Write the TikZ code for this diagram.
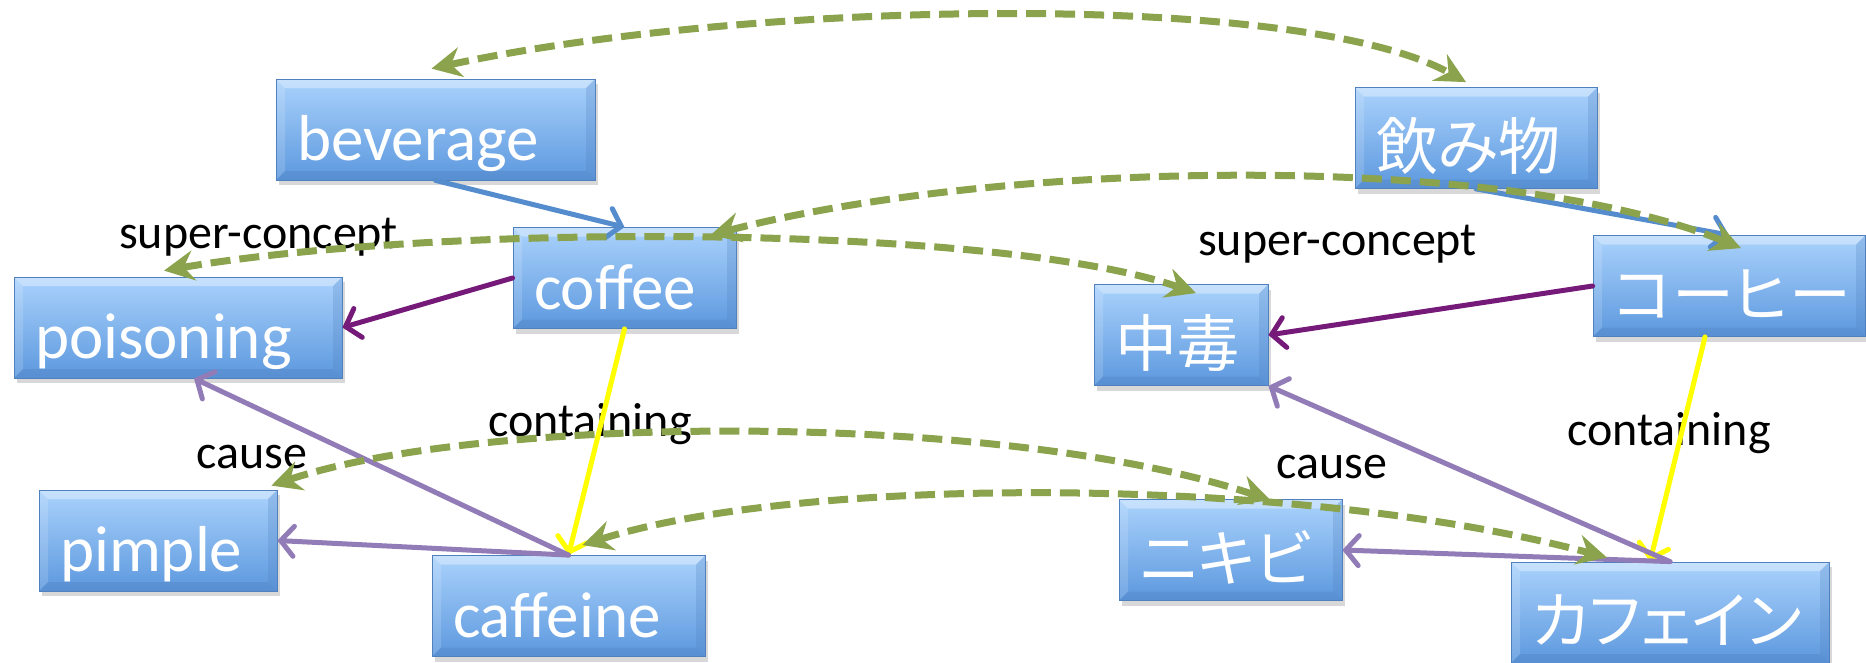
\documentclass[tikz,border=0pt]{standalone}
\usepackage{fontspec}
\setmainfont{Carlito}
\newfontfamily\jpfont{Noto Sans CJK JP}[RawFeature={+palt}]
\usetikzlibrary{arrows.meta,shadows}
\definecolor{boxtop}{RGB}{170,210,252}
\definecolor{boxbot}{RGB}{92,152,222}
\definecolor{boxedge}{RGB}{80,128,190}
\definecolor{dgreen}{RGB}{138,163,76}
\definecolor{lblue}{RGB}{84,140,205}
\definecolor{dpurple}{RGB}{118,26,122}
\definecolor{lpurple}{RGB}{146,124,183}
\definecolor{yel}{RGB}{255,255,0}
\newcommand\bx[2]{\hbox to #1pt{\hskip 21pt #2\hfil}}
\begin{document}
\begin{tikzpicture}[x=1pt,y=-1pt,
  cbox/.style={rectangle, draw=boxedge, line width=0.8pt,
    top color=boxtop, bottom color=boxbot,
    minimum height=101pt, inner xsep=0pt, inner ysep=0pt,
    text height=80pt, text depth=18pt, text=white,
    font=\fontsize{65pt}{78pt}\selectfont,
    drop shadow={shadow xshift=3pt, shadow yshift=-5pt, opacity=0.3},
    path picture={
      \fill[white,opacity=0.35] (path picture bounding box.north west) -- (path picture bounding box.north east)
        -- ([xshift=-9pt,yshift=-9pt]path picture bounding box.north east) -- ([xshift=9pt,yshift=-9pt]path picture bounding box.north west) -- cycle;
      \fill[white,opacity=0.15] (path picture bounding box.north west) -- ([xshift=9pt,yshift=-9pt]path picture bounding box.north west)
        -- ([xshift=9pt,yshift=9pt]path picture bounding box.south west) -- (path picture bounding box.south west) -- cycle;
      \fill[boxedge,opacity=0.25] (path picture bounding box.north east) -- ([xshift=-9pt,yshift=-9pt]path picture bounding box.north east)
        -- ([xshift=-9pt,yshift=9pt]path picture bounding box.south east) -- (path picture bounding box.south east) -- cycle;
      \fill[boxedge,opacity=0.35] (path picture bounding box.south west) -- (path picture bounding box.south east)
        -- ([xshift=-9pt,yshift=9pt]path picture bounding box.south east) -- ([xshift=9pt,yshift=9pt]path picture bounding box.south west) -- cycle;
    }},
  jbox/.style={cbox, font=\jpfont\fontsize{62pt}{74pt}\selectfont},
  lbl/.style={font=\fontsize{48pt}{58pt}\selectfont, anchor=base west, inner sep=0pt, text=black},
  solidarrow/.style={line width=5pt, line cap=round, -{Straight Barb[length=13pt,width=30pt,line cap=round]}},
  dashcurve/.style={draw=dgreen, line width=7pt, dash pattern=on 20pt off 9pt,
    {Stealth[length=30pt,width=30pt,inset=10pt,fill=dgreen]}-{Stealth[length=30pt,width=30pt,inset=10pt,fill=dgreen]}}
]
\fill[white] (0,0) rectangle (1866,662);
\useasboundingbox (0,0) rectangle (1866,662);

% boxes
\node[cbox] (bev) at (435.5,129.5) {\bx{319}{beverage}};
\node[cbox] (coffee) at (624.5,278) {\bx{223}{coffee}};
\node[cbox] (pois) at (178,327.5) {\bx{328}{poisoning}};
\node[cbox] (pimple) at (158,540.5) {\bx{238}{pimple}};
\node[cbox] (caff) at (568.5,606) {\bx{273}{caffeine}};
\node[jbox] (nomi) at (1476,138) {\bx{242}{飲み物}};
\node[jbox] (chudoku) at (1181,335) {\bx{174}{中毒}};
\node[jbox] (coohee) at (1729,286) {\bx{272}{コーヒー}};
\node[jbox] (nikibi) at (1230.5,550) {\bx{223}{ニキビ}};
\node[jbox] (kafein) at (1670,612.5) {\bx{318}{カフェイン}};

% labels
\node[lbl] (lsc1) at (119,248) {super-concept};
\node[lbl] (lsc2) at (1198,255) {super-concept};
\node[lbl] (lco1) at (488,436) {containing};
\node[lbl] (lco2) at (1567,445) {containing};
\node[lbl] (lca1) at (196,468) {cause};
\node[lbl] (lca2) at (1276,478) {cause};

% solid connectors
\draw[solidarrow,lblue] (bev.south) -- (coffee.north);
\draw[solidarrow,lblue] (nomi.south) -- (coohee.north);
\draw[solidarrow,dpurple] (coffee.west) -- (pois.east);
\draw[solidarrow,dpurple] (coohee.west) -- (chudoku.east);
\draw[solidarrow,yel] (coffee.south) -- (caff.north);
\draw[solidarrow,yel] ([xshift=-24pt]coohee.south) -- ([xshift=-20pt]kafein.north);
\draw[solidarrow,lpurple] (caff.north) -- ([xshift=16pt]pois.south);
\draw[solidarrow,lpurple] (caff.north) -- (pimple.east);
\draw[solidarrow,lpurple] (kafein.north) -- (chudoku.south east);
\draw[solidarrow,lpurple] (kafein.north) -- (nikibi.east);

% dashed correspondence curves
\draw[dashcurve] ([xshift=-4pt,yshift=10pt]bev.north) .. controls (750,0) and (1300,-10) .. ([xshift=-10pt,yshift=5pt]nomi.north);
\draw[dashcurve] ([xshift=-14pt,yshift=6pt]pois.north) .. controls (450,222) and (1000,225) .. ([xshift=15pt,yshift=-9pt]chudoku.north);
\draw[dashcurve] ([xshift=-26pt,yshift=-8pt]coffee.north east) .. controls (1000,160) and (1500,150) .. ([xshift=12pt,yshift=-13pt]coohee.north);
\draw[dashcurve] ([xshift=-6pt,yshift=4pt]pimple.north east) .. controls (480,415) and (1000,410) .. ([xshift=40pt,yshift=-1pt]nikibi.north);
\draw[dashcurve] ([xshift=14pt,yshift=10pt]caff.north) .. controls (800,475) and (1300,475) .. ([xshift=-63pt,yshift=4pt]kafein.north);
\end{tikzpicture}
\end{document}
